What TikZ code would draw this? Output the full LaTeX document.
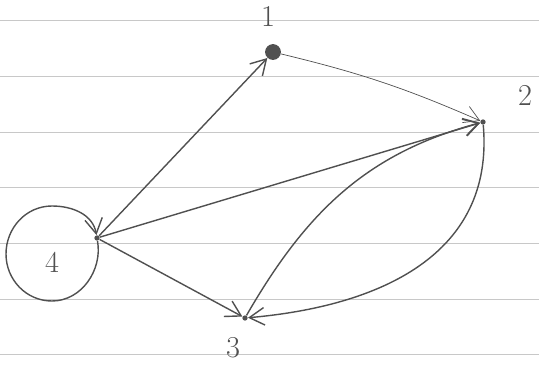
\documentclass[tikz,border=0pt]{standalone}
\usepackage{tikz}
\usetikzlibrary{arrows.meta,positioning}
\definecolor{pencil}{RGB}{80,80,80}
\definecolor{ruling}{RGB}{200,200,200}

\begin{document}
\begin{tikzpicture}[
  x=0.02cm, y=-0.02cm,
  font=\LARGE,
  vert/.style={circle, fill=pencil, inner sep=0pt, minimum size=3pt},
  lbl/.style={text=pencil, inner sep=0pt},
  arr/.style={-{Straight Barb[length=3mm, width=3.5mm]}, pencil, thick},
]
\useasboundingbox (0,0) rectangle (539,369);
% ruled paper
\foreach \y in {20,76,132,187,243,299,354}
  \draw[ruling] (0,\y) -- (539,\y);
\node[vert, minimum size=9pt] (n1) at (273,52) {};
\node[vert] (n2) at (483,122) {};
\node[vert] (n3) at (245,318) {};
\node[vert] (n4) at (97,238) {};
\node[lbl] (l1) at (268,16) {1};
\node[lbl] (l2) at (525,95) {2};
\node[lbl] (l3) at (233,348) {3};
\node[lbl] (l4) at (52,262) {4};
\draw[arr] (n4) -- (n1);
\draw[arr, thin] (n1) to[bend left=5] (n2);
\draw[arr] (n4) -- (n2);
\draw[arr] (n4) -- (n3);
\draw[arr] (n2) to[out=-85, in=5, looseness=1.1] (n3);
\draw[arr] (n3) to[out=60, in=195] (n2);
% loop at 4
\coordinate (lb) at (52,301);
\coordinate (ll) at (6,254);
\coordinate (lt) at (52,206);
\draw[arr] (n4) to[out=-80, in=0] (lb) to[out=180, in=-90] (ll)
  to[out=90, in=180] (lt) to[out=0, in=100] (n4);
\end{tikzpicture}
\end{document}
